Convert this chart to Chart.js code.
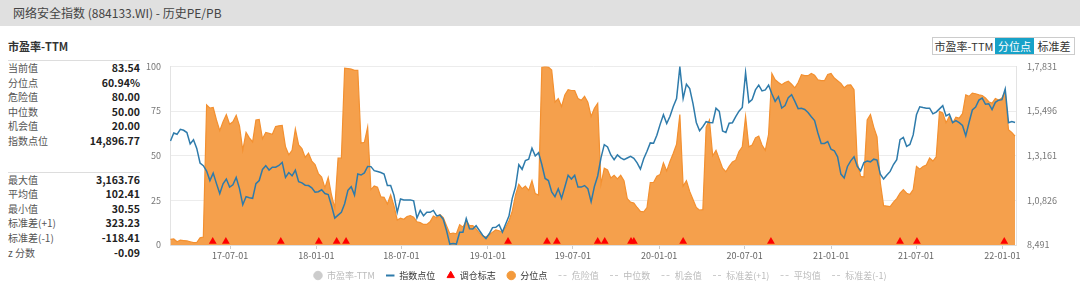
<!DOCTYPE html>
<html lang="zh">
<head>
<meta charset="UTF-8">
<title>网络安全指数 (884133.WI) - 历史PE/PB</title>
<script src="https://cdn.jsdelivr.net/npm/chart.js"></script>
<style>
  body { margin: 0; width: 1080px; height: 290px; overflow: hidden; background: #fff;
         font-family: "Noto Sans CJK SC", "Noto Sans", sans-serif; position: relative; }
  #hdr { position: absolute; left: 0; top: 0; width: 1080px; height: 26px; background: #e0e0e0;
         color: #444; font-size: 12px; line-height: 26px; padding-left: 13px; box-sizing: border-box; }
  #side { position: absolute; left: 8px; top: 38px; width: 132px; color: #555; }
  #side h4 { margin: 0; font-size: 11px; font-weight: bold; color: #333; height: 22px; line-height: 16px; border-bottom: 1px solid #ddd; }
  .blk { font-size: 10px; }
  .row { display: flex; justify-content: space-between; height: 14.6px; line-height: 14.6px; }
  .row b { color: #222; font-size: 10.5px; }
  .sep { border-top: 1px solid #ddd; margin-top: 23px; }
  #btns { position: absolute; left: 932px; top: 37px; width: 141px; height: 16px; display: flex; white-space: nowrap;
          border: 1px solid #ccc; font-size: 11px; color: #333; z-index: 2; background: #fff; }
  #btns span { line-height: 16px; text-align: center; flex: none; }
  #btns .on { background: #17a2c8; color: #fff; }
  #wrap { position: absolute; left: 120px; top: 50px; width: 960px; height: 240px; }
</style>
</head>
<body>
<div id="hdr">网络安全指数 (884133.WI) - 历史PE/PB</div>
<div id="side">
  <h4>市盈率-TTM</h4>
  <div class="blk">
    <div class="row"><span>当前值</span><b>83.54</b></div>
    <div class="row"><span>分位点</span><b>60.94%</b></div>
    <div class="row"><span>危险值</span><b>80.00</b></div>
    <div class="row"><span>中位数</span><b>50.00</b></div>
    <div class="row"><span>机会值</span><b>20.00</b></div>
    <div class="row"><span>指数点位</span><b>14,896.77</b></div>
  </div>
  <div class="blk sep">
    <div class="row"><span>最大值</span><b>3,163.76</b></div>
    <div class="row"><span>平均值</span><b>102.41</b></div>
    <div class="row"><span>最小值</span><b>30.55</b></div>
    <div class="row"><span>标准差(+1)</span><b>323.23</b></div>
    <div class="row"><span>标准差(-1)</span><b>-118.41</b></div>
    <div class="row"><span>z 分数</span><b>-0.09</b></div>
  </div>
</div>
<div id="btns"><span style="width:62px">市盈率-TTM</span><span class="on" style="width:39px">分位点</span><span style="width:40px">标准差</span></div>
<div id="wrap"><canvas id="chart" width="960" height="240"></canvas></div>
<script>
  // weekly data, first point on this date
  const firstWeek = '2017-02-24';

  // 分位点 (%)
  const percentile = [
    3.2, 3.4, 1.8, 2.7, 2.5, 2.3, 1.8, 1.3, 1.4, 4, 4.5,
    78.4, 76.6, 77, 70, 64, 69, 73, 67.6, 69, 72.6,
    66.7, 53, 63, 60, 57.7, 70, 70.3, 59.5, 63, 62.5,
    62, 66.3, 66.7, 67, 55, 50.5, 53, 65, 56, 54,
    49, 51.4, 47, 45, 40, 38, 32, 37.8, 28, 20.7,
    48.6, 48.6, 99, 98.8, 98.5, 97.8, 97.8, 57, 57.5, 66,
    31, 33, 32.4, 27, 26.7, 23, 28, 22, 14, 15,
    14.4, 16, 16.5, 15.5, 13, 12.5, 11.5, 11.5, 13, 16.2,
    15.3, 17, 15.3, 10.8, 6.3, 6.7, 6.3, 11.4, 10, 13.5,
    10.8, 10.8, 9, 6.7, 5, 4.5, 5.8, 7.2, 8.5, 8,
    7.2, 10, 13.5, 19, 28, 34, 31.5, 33, 30.6, 36,
    28.8, 28, 99.5, 100, 99.6, 98, 80, 82, 77.5, 84,
    87, 86.5, 86.5, 82, 81, 83.2, 80, 72, 76.6, 79.3,
    34, 43, 42, 37.5, 39, 37, 39, 36, 26, 24,
    23.5, 21, 18.8, 18.5, 21, 35, 35, 38.5, 39.5, 46,
    41.5, 46.8, 51.4, 56.4, 73, 33, 36, 30, 25.5, 21,
    19.5, 19.8, 66, 70, 50, 53, 48, 43, 41, 44,
    46.5, 47.5, 52.4, 55, 72, 55, 56, 60, 61, 56,
    53, 62, 96, 92.5, 91, 89.7, 91, 91.7, 90, 88,
    91, 95.3, 94.8, 94.8, 96, 95, 92.5, 92, 92, 95.5,
    96, 93.5, 92, 90.5, 88, 89.5, 89.7, 87, 46, 38.5,
    38, 70, 73, 66, 60.5, 35, 22, 21.8, 21.5, 24,
    26, 29, 31, 29, 28.3, 31, 44, 42.5, 44, 44.8,
    48.7, 47, 49.3, 74.8, 73.9, 68.5, 72, 68.3, 71.5, 71,
    73.5, 84, 83.2, 85, 84.7, 84.1, 83.7, 82.3, 80.2, 79.4,
    82, 81.1, 82.3, 86, 64.5, 63, 61
  ];

  // 指数点位
  const indexLevel = [
    13927, 14350, 14280, 14540, 14490, 14370, 13780, 13990, 13540, 12780, 12640,
    12360, 11860, 12250, 11700, 11180, 11690, 11940, 11520, 11640, 12020,
    11440, 10600, 11020, 10960, 10930, 11700, 11860, 12440, 12640, 12410,
    12560, 12560, 12650, 12810, 12030, 12280, 12110, 12400, 11800, 11740,
    11620, 11600, 11480, 11250, 11280, 11380, 11180, 11130, 10550, 9900,
    10050, 10200, 10650, 11350, 11540, 11100, 12200, 12150, 12260, 12600,
    12590, 12380, 12330, 12280, 12200, 11600, 11600, 11100, 10200, 10900,
    10850, 10850, 10850, 10800, 9900, 10300, 10020, 10200, 10200, 10300,
    10010, 10060, 9840, 9250, 8540, 8575, 8541, 9160, 9160, 9880,
    9340, 9330, 9500, 9250, 9000, 8830, 9080, 9400, 9420, 9550,
    9170, 9590, 10000, 10930, 11520, 12690, 12450, 12910, 12980, 13550,
    13150, 13320, 12700, 11970, 11860, 11270, 11020, 11430, 10930, 11520,
    12140, 11940, 12140, 11520, 11520, 11600, 11440, 10750, 11550, 12100,
    13050, 13740, 13620, 13200, 12950, 13200, 13050, 12950, 13040, 13130,
    13020, 12790, 12460, 13000, 13390, 13830, 13810, 14230, 14800, 15300,
    14840, 15220, 15730, 16150, 17800, 16150, 16900, 16670, 15880, 14900,
    14470, 14680, 14940, 14900, 14886, 15640, 15480, 14450, 14370, 14860,
    14886, 15200, 15490, 15680, 17500, 15950, 16100, 16600, 16850, 16550,
    16600, 16850, 16400, 16000, 16250, 15650, 15780, 16200, 16350, 16000,
    15620, 15640, 15580, 15420, 15200, 15000, 14350, 13800, 13800, 13900,
    13500, 13420, 13100, 12200, 12000, 12600, 12890, 13100, 12600, 12360,
    12800, 12880, 12840, 12980, 12930, 12200, 11940, 12150, 12340, 12700,
    12950, 14000, 14120, 13650, 13750, 14250, 15300, 15720, 15680, 15644,
    15644, 15350, 15440, 15610, 15780, 15240, 15340, 14890, 15000, 14890,
    14740, 14200, 14900, 15550, 15710, 16070, 16170, 15850, 15880, 15570,
    15950, 16065, 16090, 16650, 14890, 14950, 14900
  ];

  // 调仓标志
  const signalDates = [
    '2017-05-25', '2017-06-22', '2017-10-17', '2018-01-06', '2018-02-13', '2018-03-05',
    '2019-02-13', '2019-05-07', '2019-05-28', '2019-08-23', '2019-09-07', '2019-11-02',
    '2019-11-08', '2020-02-21', '2020-08-26', '2021-05-28', '2021-07-03', '2022-01-05'
  ];

  const xTickLabels = ['17-07-01', '18-01-01', '18-07-01', '19-01-01', '19-07-01',
                       '20-01-01', '20-07-01', '21-01-01', '21-07-01', '22-01-01'];
  const rightTickValues = [8491, 10826, 13161, 15496, 17831];
  const rightTickLabels = ['8,491', '1,0,826', '1,3,161', '1,5,496', '1,7,831'];

  const legendNames = ['市盈率-TTM', '指数点位', '调仓标志', '分位点', '危险值', '中位数', '机会值', '标准差(+1)', '平均值', '标准差(-1)'];
  const legendActive = [false, true, true, true, false, false, false, false, false, false];

  const FONT = '"Noto Sans CJK SC", "Noto Sans", sans-serif';
  const ORANGE = '#f5a04c';
  const BLUE = '#2e7bab';

  const t0 = Date.parse(firstWeek + 'T00:00:00Z');
  function dayNum(iso) { return (Date.parse(iso + 'T00:00:00Z') - t0) / 86400000; }
  function tickDay(lbl) { return dayNum('20' + lbl); }

  const pctPoints = percentile.map((v, i) => ({ x: i * 7, y: v }));
  const idxPoints = indexLevel.map((v, i) => ({ x: i * 7, y: v }));
  const sigPoints = signalDates.map(d => ({ x: dayNum(d), y: 2 }));

  function legendItems() {
    return legendNames.map((name, i) => {
      const item = { text: name, hidden: false, fontColor: legendActive[i] ? '#333' : '#bbb', lineWidth: 1 };
      if (i === 0) { item.pointStyle = 'circle'; item.fillStyle = '#ccc'; item.strokeStyle = '#ccc'; }
      else if (i === 1) { item.pointStyle = 'line'; item.strokeStyle = BLUE; item.fillStyle = BLUE; item.lineWidth = 2; }
      else if (i === 2) { item.pointStyle = 'triangle'; item.fillStyle = '#f00'; item.strokeStyle = '#f00'; }
      else if (i === 3) { item.pointStyle = 'circle'; item.fillStyle = '#f39a3c'; item.strokeStyle = '#f39a3c'; }
      else { item.pointStyle = 'line'; item.strokeStyle = '#ccc'; item.fillStyle = '#ccc'; item.lineDash = [3, 2]; }
      return item;
    });
  }

  new Chart(document.getElementById('chart'), {
    type: 'line',
    data: {
      datasets: [
        {
          label: '调仓标志', data: sigPoints, yAxisID: 'y', showLine: false,
          pointStyle: 'triangle', pointRadius: 4.5, pointBackgroundColor: '#f00',
          pointBorderColor: '#f00', pointBorderWidth: 0, clip: false
        },
        {
          label: '指数点位', data: idxPoints, yAxisID: 'y1',
          borderColor: BLUE, borderWidth: 1.5, pointRadius: 0, tension: 0
        },
        {
          label: '分位点', data: pctPoints, yAxisID: 'y',
          borderColor: '#f39030', borderWidth: 1.2, backgroundColor: ORANGE,
          fill: 'origin', pointRadius: 0, tension: 0
        }
      ]
    },
    options: {
      responsive: false,
      animation: false,
      layout: { padding: { top: 10, left: 0, right: 0, bottom: 0 } },
      scales: {
        x: {
          type: 'linear', min: -1, max: 1801,
          afterBuildTicks: s => { s.ticks = xTickLabels.map(l => ({ value: tickDay(l) })); },
          afterFit: s => { s.height = 15; },
          ticks: { callback: (v, i) => xTickLabels[i], color: '#666', font: { size: 9, family: FONT }, padding: 1, maxRotation: 0, autoSkip: false },
          grid: { drawOnChartArea: false, tickLength: 4, color: '#ccc' },
          border: { color: '#ddd' }
        },
        y: {
          position: 'left', min: 0, max: 100,
          afterFit: s => { s.width = 50; },
          ticks: { stepSize: 25, color: '#777', font: { size: 9, family: FONT }, padding: 9 },
          grid: { color: '#ececec', drawTicks: false },
          border: { color: '#e3e3e3' }
        },
        y1: {
          position: 'right', min: 8491, max: 17831,
          afterBuildTicks: s => { s.ticks = rightTickValues.map(v => ({ value: v })); },
          afterFit: s => { s.width = 64; },
          ticks: { callback: (v, i) => rightTickLabels[i], color: '#777', font: { size: 9, family: FONT }, padding: 11 },
          grid: { drawOnChartArea: false, drawTicks: false },
          border: { color: '#e3e3e3' }
        }
      },
      plugins: {
        legend: {
          position: 'bottom',
          onClick: () => {},
          labels: {
            usePointStyle: true, boxWidth: 9, boxHeight: 6, padding: 11,
            font: { size: 9, family: FONT },
            generateLabels: legendItems
          }
        },
        tooltip: { enabled: false }
      }
    }
  });
</script>
</body>
</html>
